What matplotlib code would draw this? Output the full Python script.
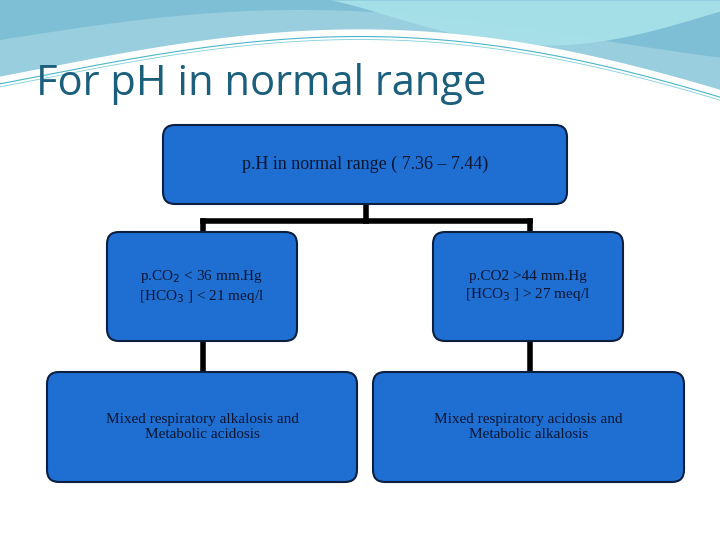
import numpy as np
import matplotlib.pyplot as plt
from matplotlib.patches import FancyBboxPatch

title = "For pH in normal range"
top_label = "p.H in normal range ( 7.36 – 7.44)"
mid_labels = ["p.CO$_2$ < 36 mm.Hg\n[HCO$_3$ ] < 21 meq/l",
              "p.CO2 >44 mm.Hg\n[HCO$_3$ ] > 27 meq/l"]
bottom_labels = ["Mixed respiratory alkalosis and\nMetabolic acidosis",
                 "Mixed respiratory acidosis and\nMetabolic alkalosis"]

fill = "#1f6fd2"
edge = "#0b1f40"
text_col = "#0b1530"

fig = plt.figure(figsize=(7.2, 5.4), dpi=100)
ax = fig.add_axes([0, 0, 1, 1])
ax.set_xlim(0, 720)
ax.set_ylim(540, 0)
ax.axis("off")

# decorative header waves
x = np.linspace(0, 720, 300)
lower = 75 - 45 * np.sin((x - 30) / 720 * np.pi) + 25 * (x / 720) ** 3
ax.fill_between(x, 0, lower, color="#8ec9dc", alpha=0.9, lw=0)
lower2 = 40 - 30 * np.sin(x / 720 * np.pi * 1.2)
ax.fill_between(x, 0, np.clip(lower2, 0, None), color="#6fb5cf", alpha=0.6, lw=0)
xr = np.linspace(330, 720, 200)
ax.fill_between(xr, 0, 45 * np.sin((xr - 330) / 390 * np.pi * 0.9) ** 1.2,
                color="#a9e2ea", alpha=0.9, lw=0)
ax.plot(x, lower, color="white", lw=6)
ax.plot(x, lower + 3, color="#4bb6c9", lw=0.8)
ax.plot(x, lower + 6, color="#7fcfdc", lw=0.6)

ax.text(36, 84, title, fontsize=30, color="#1b5f7c", family="Open Sans",
        va="center", ha="left")

def box(x0, y0, x1, y1, label, fs=11.5):
    ax.add_patch(FancyBboxPatch((x0, y0), x1 - x0, y1 - y0,
                                boxstyle="round,pad=0,rounding_size=12",
                                fc=fill, ec=edge, lw=1.5, zorder=3))
    ax.text((x0 + x1) / 2, (y0 + y1) / 2, label, ha="center", va="center",
            fontsize=fs, color=text_col, family="Liberation Serif", zorder=4)

# connectors
lw = 4
ax.plot([366, 366], [204, 221], color="black", lw=lw)
ax.plot([203, 530], [221, 221], color="black", lw=lw)
for cx in (203, 530):
    ax.plot([cx, cx], [221, 232], color="black", lw=lw)
    ax.plot([cx, cx], [341, 372], color="black", lw=lw)

box(163, 125, 567, 204, top_label, fs=13)
box(107, 232, 297, 341, mid_labels[0], fs=11)
box(433, 232, 623, 341, mid_labels[1], fs=11)
box(47, 372, 357, 482, bottom_labels[0], fs=11)
box(373, 372, 684, 482, bottom_labels[1], fs=11)

fig.savefig("out.png", dpi=100)
